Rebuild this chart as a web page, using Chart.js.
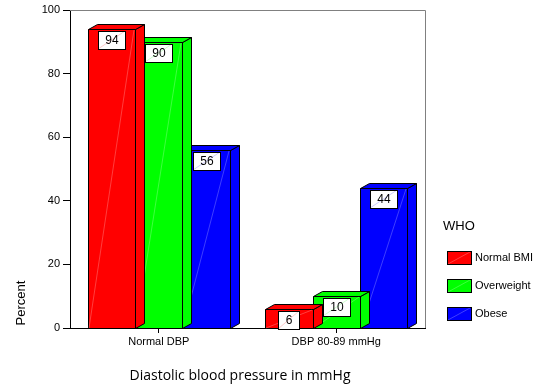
<!DOCTYPE html>
<html>
<head>
<meta charset="utf-8">
<script src="https://cdn.jsdelivr.net/npm/chart.js@4/dist/chart.umd.min.js"></script>
<style>
  html, body { margin: 0; padding: 0; background: #fff; }
  #wrap { width: 539px; height: 385px; position: relative; }
</style>
</head>
<body>
<div id="wrap"><canvas id="c" width="539" height="385"></canvas></div>
<script>
// Diastolic blood pressure groups by WHO BMI class (percent)
const categories = ['Normal DBP', 'DBP 80-89 mmHg'];
const seriesNames = ['Normal BMI', 'Overweight', 'Obese'];
const normalBMI = [94, 6];
const overweight = [90, 10];
const obese = [56, 44];
const yTicks = [0, 20, 40, 60, 80, 100];

const colors = ['#ff0000', '#00ff00', '#0000ff'];
const FONT = '"Liberation Sans", Arial, sans-serif';
const DX = 9, DY = 5; // depth of the 3D faces

function sheen(ctx, x0, y0, x1, y1) {
  ctx.save();
  ctx.strokeStyle = 'rgba(255,255,255,0.35)';
  ctx.lineWidth = 0.7;
  ctx.beginPath();
  ctx.moveTo(x0, y0);
  ctx.lineTo(x1, y1);
  ctx.stroke();
  ctx.restore();
}

// Front, top and side faces, drawn dataset by dataset so later bars cover earlier sides
const bars3d = {
  id: 'bars3d',
  beforeDatasetDraw(chart, args) {
    const ctx = chart.ctx;
    const meta = args.meta;
    const col = colors[args.index];
    meta.data.forEach(el => {
      const w = el.width;
      const x0 = Math.round(el.x - w / 2), x1 = Math.round(el.x + w / 2);
      const top = Math.round(el.y), base = Math.round(el.base);
      ctx.save();
      ctx.fillStyle = col;
      ctx.strokeStyle = '#000';
      ctx.lineWidth = 1;
      ctx.lineJoin = 'round';
      // side face
      ctx.beginPath();
      ctx.moveTo(x1 + 0.5, top + 0.5);
      ctx.lineTo(x1 + DX + 0.5, top - DY + 0.5);
      ctx.lineTo(x1 + DX + 0.5, base - DY + 0.5);
      ctx.lineTo(x1 + 0.5, base + 0.5);
      ctx.closePath();
      ctx.fill(); ctx.stroke();
      // top face
      ctx.beginPath();
      ctx.moveTo(x0 + 0.5, top + 0.5);
      ctx.lineTo(x0 + DX + 0.5, top - DY + 0.5);
      ctx.lineTo(x1 + DX + 0.5, top - DY + 0.5);
      ctx.lineTo(x1 + 0.5, top + 0.5);
      ctx.closePath();
      ctx.fill(); ctx.stroke();
      // front face
      ctx.fillRect(x0, top, x1 - x0, base - top);
      ctx.strokeRect(x0 + 0.5, top + 0.5, x1 - x0, base - top);
      sheen(ctx, x0 + 1, base, x1 - 1, top + 1);
      ctx.restore();
    });
    return false;
  },
  afterDatasetsDraw(chart) {
    const ctx = chart.ctx;
    const a = chart.chartArea;
    // grey frame on top and right
    ctx.save();
    ctx.strokeStyle = '#808080';
    ctx.lineWidth = 1;
    ctx.beginPath();
    ctx.moveTo(a.left, a.top + 0.5);
    ctx.lineTo(a.right + 0.5, a.top + 0.5);
    ctx.lineTo(a.right + 0.5, a.bottom);
    ctx.stroke();
    ctx.restore();

    // value boxes
    ctx.save();
    ctx.font = '12px ' + FONT;
    ctx.textAlign = 'center';
    ctx.textBaseline = 'middle';
    chart.data.datasets.forEach((ds, i) => {
      chart.getDatasetMeta(i).data.forEach((el, j) => {
        const txt = String(ds.data[j]);
        const tw = ctx.measureText(txt).width;
        const bw = Math.round(tw + 14), bh = 18;
        const bx = Math.round(el.x - bw / 2), by = Math.round(el.y) + 2;
        ctx.fillStyle = '#fff';
        ctx.fillRect(bx, by, bw, bh);
        ctx.strokeStyle = colors[i];
        ctx.globalAlpha = 0.3;
        ctx.lineWidth = 0.7;
        ctx.beginPath();
        ctx.moveTo(bx, by + bh);
        ctx.lineTo(bx + bw, by);
        ctx.stroke();
        ctx.globalAlpha = 1;
        ctx.lineWidth = 1;
        ctx.strokeStyle = '#000';
        ctx.strokeRect(bx + 0.5, by + 0.5, bw, bh);
        ctx.fillStyle = '#000';
        ctx.fillText(txt, bx + bw / 2 + 0.5, by + bh / 2 + 1);
      });
    });
    ctx.restore();

    // legend
    ctx.save();
    ctx.fillStyle = '#000';
    ctx.font = '13px ' + FONT;
    ctx.textBaseline = 'middle';
    ctx.fillText('WHO', 443, 226);
    ctx.font = '11px ' + FONT;
    seriesNames.forEach((name, i) => {
      const y = 251 + i * 28;
      ctx.fillStyle = colors[i];
      ctx.fillRect(447, y, 24, 13);
      sheen(ctx, 448, y + 13, 470, y + 1);
      ctx.strokeStyle = '#000';
      ctx.strokeRect(447.5, y + 0.5, 24, 13);
      ctx.fillStyle = '#000';
      ctx.fillText(name, 475, y + 7);
    });
    ctx.restore();

    // axis titles
    ctx.save();
    ctx.fillStyle = '#000';
    ctx.font = '14px "Open Sans", "Liberation Sans", sans-serif';
    ctx.textAlign = 'center';
    ctx.textBaseline = 'middle';
    ctx.fillText('Diastolic blood pressure in mmHg', 240, 376);
    ctx.translate(21, 303);
    ctx.rotate(-Math.PI / 2);
    ctx.font = '13px ' + FONT;
    ctx.fillText('Percent', 0, 0);
    ctx.restore();
  }
};

new Chart(document.getElementById('c'), {
  type: 'bar',
  data: {
    labels: categories,
    datasets: [
      { label: seriesNames[0], data: normalBMI, backgroundColor: colors[0] },
      { label: seriesNames[1], data: overweight, backgroundColor: colors[1] },
      { label: seriesNames[2], data: obese, backgroundColor: colors[2] }
    ]
  },
  options: {
    responsive: false,
    animation: false,
    events: [],
    layout: { padding: { top: 10, right: 114, left: 0, bottom: 0 } },
    datasets: { bar: { categoryPercentage: 0.8, barPercentage: 1.0 } },
    plugins: { legend: { display: false }, tooltip: { enabled: false } },
    scales: {
      x: {
        offset: true,
        afterFit: s => { s.height = 57; },
        grid: { offset: false, drawOnChartArea: false, tickLength: 5, color: '#000' },
        border: { color: '#000', width: 1 },
        ticks: { color: '#000', font: { family: FONT, size: 11 }, padding: 2 }
      },
      y: {
        min: 0, max: 100,
        afterFit: s => { s.width = 70; },
        afterBuildTicks: s => { s.ticks = yTicks.map(v => ({ value: v })); },
        grid: { drawOnChartArea: false, tickLength: 7, color: '#000' },
        border: { color: '#000', width: 1 },
        ticks: { color: '#000', font: { family: FONT, size: 11 }, padding: 3 }
      }
    }
  },
  plugins: [bars3d]
});
</script>
</body>
</html>
